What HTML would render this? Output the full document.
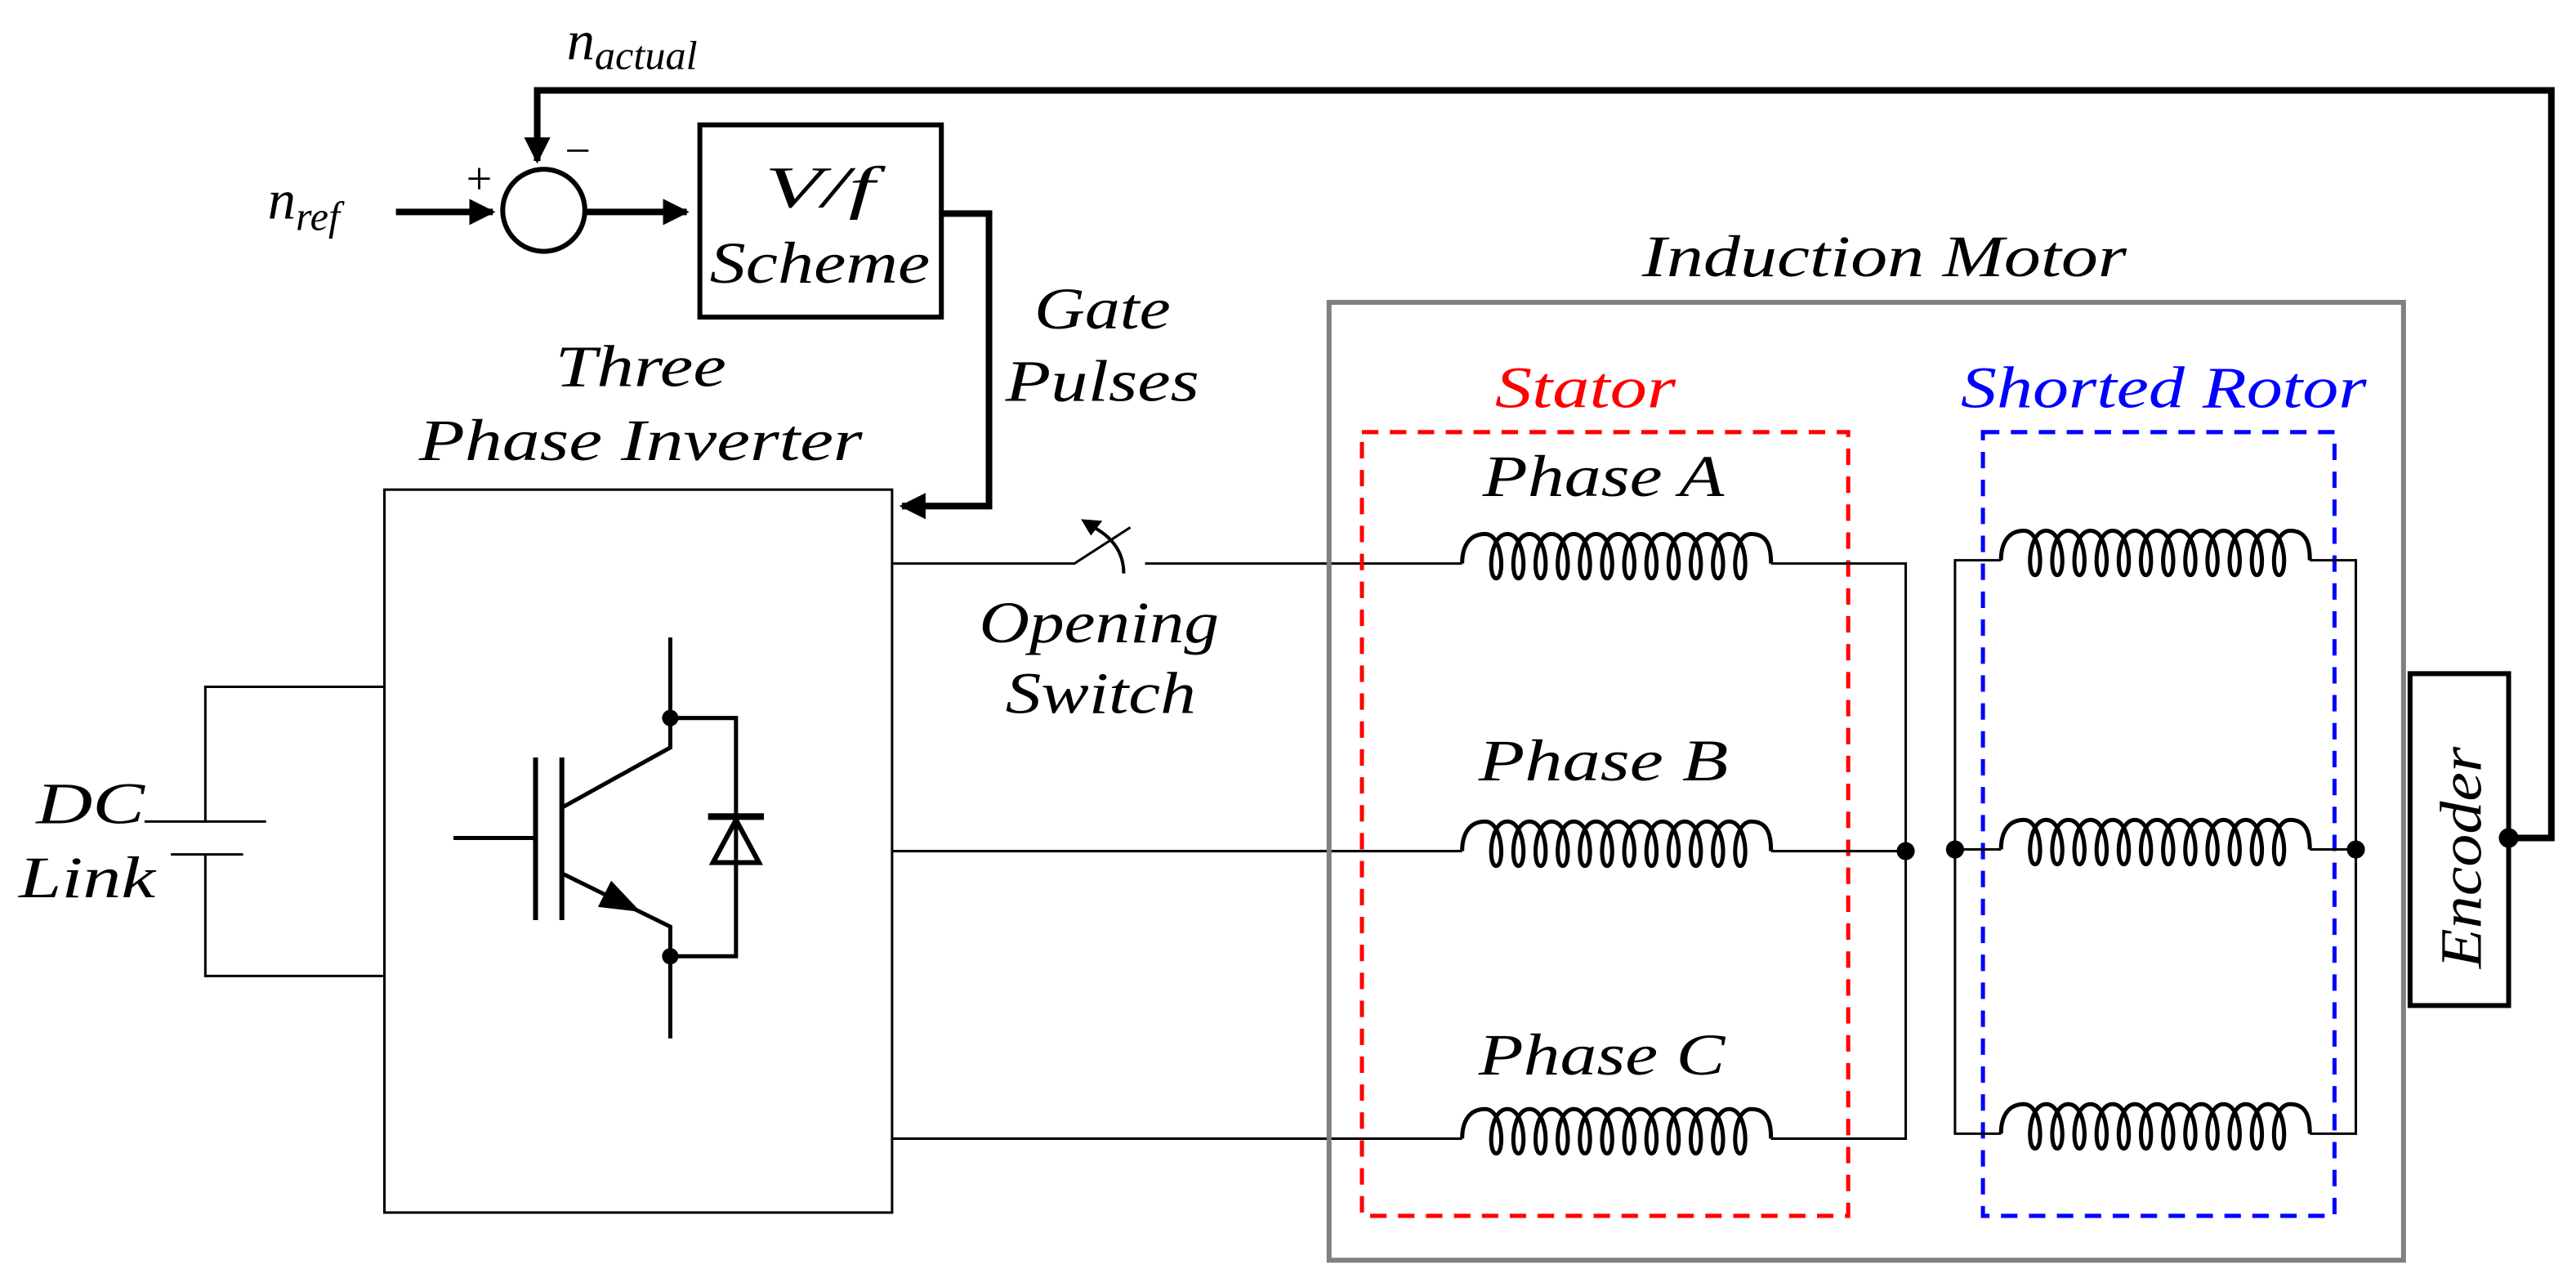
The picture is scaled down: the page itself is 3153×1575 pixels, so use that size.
<!DOCTYPE html>
<html><head><meta charset="utf-8"><style>
html,body{margin:0;padding:0;background:#fff;}
svg{display:block;}
text{font-family:"Liberation Serif",serif;font-style:italic;}
</style></head><body>
<svg width="3153" height="1575" viewBox="0 0 1568 783.3" preserveAspectRatio="none" xmlns="http://www.w3.org/2000/svg">
<defs>
<marker id="ah" viewBox="0 0 10 10" refX="9" refY="5" markerWidth="4" markerHeight="4" orient="auto" markerUnits="strokeWidth"><path d="M0,0L10,5L0,10z" fill="#000"/></marker>
<path id="c1" fill="none" stroke="#000" stroke-width="2.5" d="M890,343c0,-10 4,-18 14,-18c11,0 12,27 6.75,27c-5.25,0 -4.25,-27 6.75,-27c11,0 12,27 6.75,27c-5.25,0 -4.25,-27 6.75,-27c11,0 12,27 6.75,27c-5.25,0 -4.25,-27 6.75,-27c11,0 12,27 6.75,27c-5.25,0 -4.25,-27 6.75,-27c11,0 12,27 6.75,27c-5.25,0 -4.25,-27 6.75,-27c11,0 12,27 6.75,27c-5.25,0 -4.25,-27 6.75,-27c11,0 12,27 6.75,27c-5.25,0 -4.25,-27 6.75,-27c11,0 12,27 6.75,27c-5.25,0 -4.25,-27 6.75,-27c11,0 12,27 6.75,27c-5.25,0 -4.25,-27 6.75,-27c11,0 12,27 6.75,27c-5.25,0 -4.25,-27 6.75,-27c11,0 12,27 6.75,27c-5.25,0 -4.25,-27 6.75,-27c11,0 12,27 6.75,27c-5.25,0 -4.25,-27 6.75,-27c10,0 12,8 12,18"/>
</defs>
<rect width="1568" height="784" fill="#fff"/>

<!-- feedback loop -->
<path d="M1527,510H1553V55H327V98" fill="none" stroke="#000" stroke-width="4" marker-end="url(#ah)"/>
<text x="345" y="36" font-size="34">n<tspan font-size="25" dy="6">actual</tspan></text>

<!-- summing -->
<circle cx="331" cy="128" r="25" fill="none" stroke="#000" stroke-width="3"/>
<path d="M241,129H300" stroke="#000" stroke-width="4" marker-end="url(#ah)"/>
<path d="M357,129H418" stroke="#000" stroke-width="4" marker-end="url(#ah)"/>
<text x="163" y="133" font-size="34">n<tspan font-size="25" dy="7">ref</tspan></text>
<text x="282" y="118" font-size="28" font-style="normal">+</text>
<text x="342" y="101" font-size="28" font-style="normal">−</text>

<!-- V/f box -->
<rect x="426" y="76" width="147" height="117" fill="none" stroke="#000" stroke-width="3"/>
<text x="499" y="126" font-size="36" text-anchor="middle" textLength="67" lengthAdjust="spacingAndGlyphs">V/f</text>
<text x="499" y="172" font-size="36" text-anchor="middle" textLength="134" lengthAdjust="spacingAndGlyphs">Scheme</text>

<!-- gate pulses line -->
<path d="M573,130H602V308H549" fill="none" stroke="#000" stroke-width="4" marker-end="url(#ah)"/>
<text x="671" y="200" font-size="36" text-anchor="middle" textLength="83" lengthAdjust="spacingAndGlyphs">Gate</text>
<text x="671" y="244" font-size="36" text-anchor="middle" textLength="118" lengthAdjust="spacingAndGlyphs">Pulses</text>

<text x="390" y="235" font-size="36" text-anchor="middle" textLength="104" lengthAdjust="spacingAndGlyphs">Three</text>
<text x="390" y="280" font-size="36" text-anchor="middle" textLength="270" lengthAdjust="spacingAndGlyphs">Phase Inverter</text>

<!-- inverter box -->
<rect x="234" y="298" width="309" height="440" fill="none" stroke="#000" stroke-width="1.5"/>

<!-- DC link -->
<path d="M234,418H125V500M125,520V594H234" fill="none" stroke="#000" stroke-width="1.5"/>
<path d="M88,500H162M104,520H148" stroke="#000" stroke-width="1.5"/>
<text x="55" y="501" font-size="36" text-anchor="middle" textLength="66" lengthAdjust="spacingAndGlyphs">DC</text>
<text x="53" y="546" font-size="36" text-anchor="middle" textLength="83" lengthAdjust="spacingAndGlyphs">Link</text>

<!-- IGBT -->
<g stroke="#000" stroke-width="2.5" fill="none">
<path d="M408,388V455L343,491"/>
<path d="M343,532L408,564V632"/>
<path d="M276,510H326"/>
<path d="M326,461V560M342,461V560" stroke-width="3"/>
<path d="M408,437H448V582H408"/>
<path d="M431,497H465" stroke-width="4"/>
<path d="M448,499L434,525H462Z" stroke-width="3"/>
</g>
<path d="M390,555L364,552L372,536Z" fill="#000"/>
<circle cx="408" cy="437" r="5" fill="#000"/>
<circle cx="408" cy="582" r="5" fill="#000"/>

<!-- output lines -->
<g stroke="#000" stroke-width="1.5" fill="none">
<path d="M543,343H654L688,321"/>
<path d="M697,343H890"/>
<path d="M543,518H890"/>
<path d="M543,693H890"/>
</g>
<path d="M684,349Q684,330 664,320" fill="none" stroke="#000" stroke-width="2"/>
<path d="M658,316L671,317L664,326Z" fill="#000"/>
<text x="669" y="391" font-size="36" text-anchor="middle" textLength="146" lengthAdjust="spacingAndGlyphs">Opening</text>
<text x="670" y="434" font-size="36" text-anchor="middle" textLength="116" lengthAdjust="spacingAndGlyphs">Switch</text>

<!-- motor box -->
<rect x="809" y="184" width="654" height="583" fill="none" stroke="#808080" stroke-width="3"/>
<text x="1147" y="168" font-size="36" text-anchor="middle" textLength="295" lengthAdjust="spacingAndGlyphs">Induction Motor</text>

<rect x="829" y="263" width="296" height="477" fill="none" stroke="#ff0000" stroke-width="2.5" stroke-dasharray="10,7"/>
<rect x="1207" y="263" width="214" height="477" fill="none" stroke="#0000ff" stroke-width="2.5" stroke-dasharray="10,7"/>
<text x="965" y="248" font-size="36" text-anchor="middle" fill="#ff0000" textLength="110" lengthAdjust="spacingAndGlyphs">Stator</text>
<text x="1317" y="248" font-size="36" text-anchor="middle" fill="#0000ff" textLength="247" lengthAdjust="spacingAndGlyphs">Shorted Rotor</text>

<text x="976" y="302" font-size="36" text-anchor="middle" textLength="147" lengthAdjust="spacingAndGlyphs">Phase A</text>
<text x="976" y="475" font-size="36" text-anchor="middle" textLength="152" lengthAdjust="spacingAndGlyphs">Phase B</text>
<text x="975" y="654" font-size="36" text-anchor="middle" textLength="150" lengthAdjust="spacingAndGlyphs">Phase C</text>

<!-- coils -->
<use href="#c1"/>
<use href="#c1" y="175"/>
<use href="#c1" y="350"/>
<use href="#c1" x="328" y="-2"/>
<use href="#c1" x="328" y="174"/>
<use href="#c1" x="328" y="347"/>

<g stroke="#000" stroke-width="1.5" fill="none">
<path d="M1078,343H1160V693H1078"/>
<path d="M1078,518H1160"/>
<path d="M1218,341H1190V690H1218M1190,517H1218"/>
<path d="M1406,341H1434V690H1406M1406,517H1434"/>
</g>
<circle cx="1160" cy="518" r="5.5" fill="#000"/>
<circle cx="1190" cy="517" r="5.5" fill="#000"/>
<circle cx="1434" cy="517" r="5.5" fill="#000"/>

<!-- encoder -->
<rect x="1467" y="410" width="60" height="202" fill="#fff" stroke="#000" stroke-width="3"/>
<text x="0" y="0" font-size="36" text-anchor="middle" transform="translate(1510,522) rotate(-90)" textLength="135" lengthAdjust="spacingAndGlyphs">Encoder</text>
<circle cx="1527" cy="510" r="6" fill="#000"/>
</svg>
</body></html>
